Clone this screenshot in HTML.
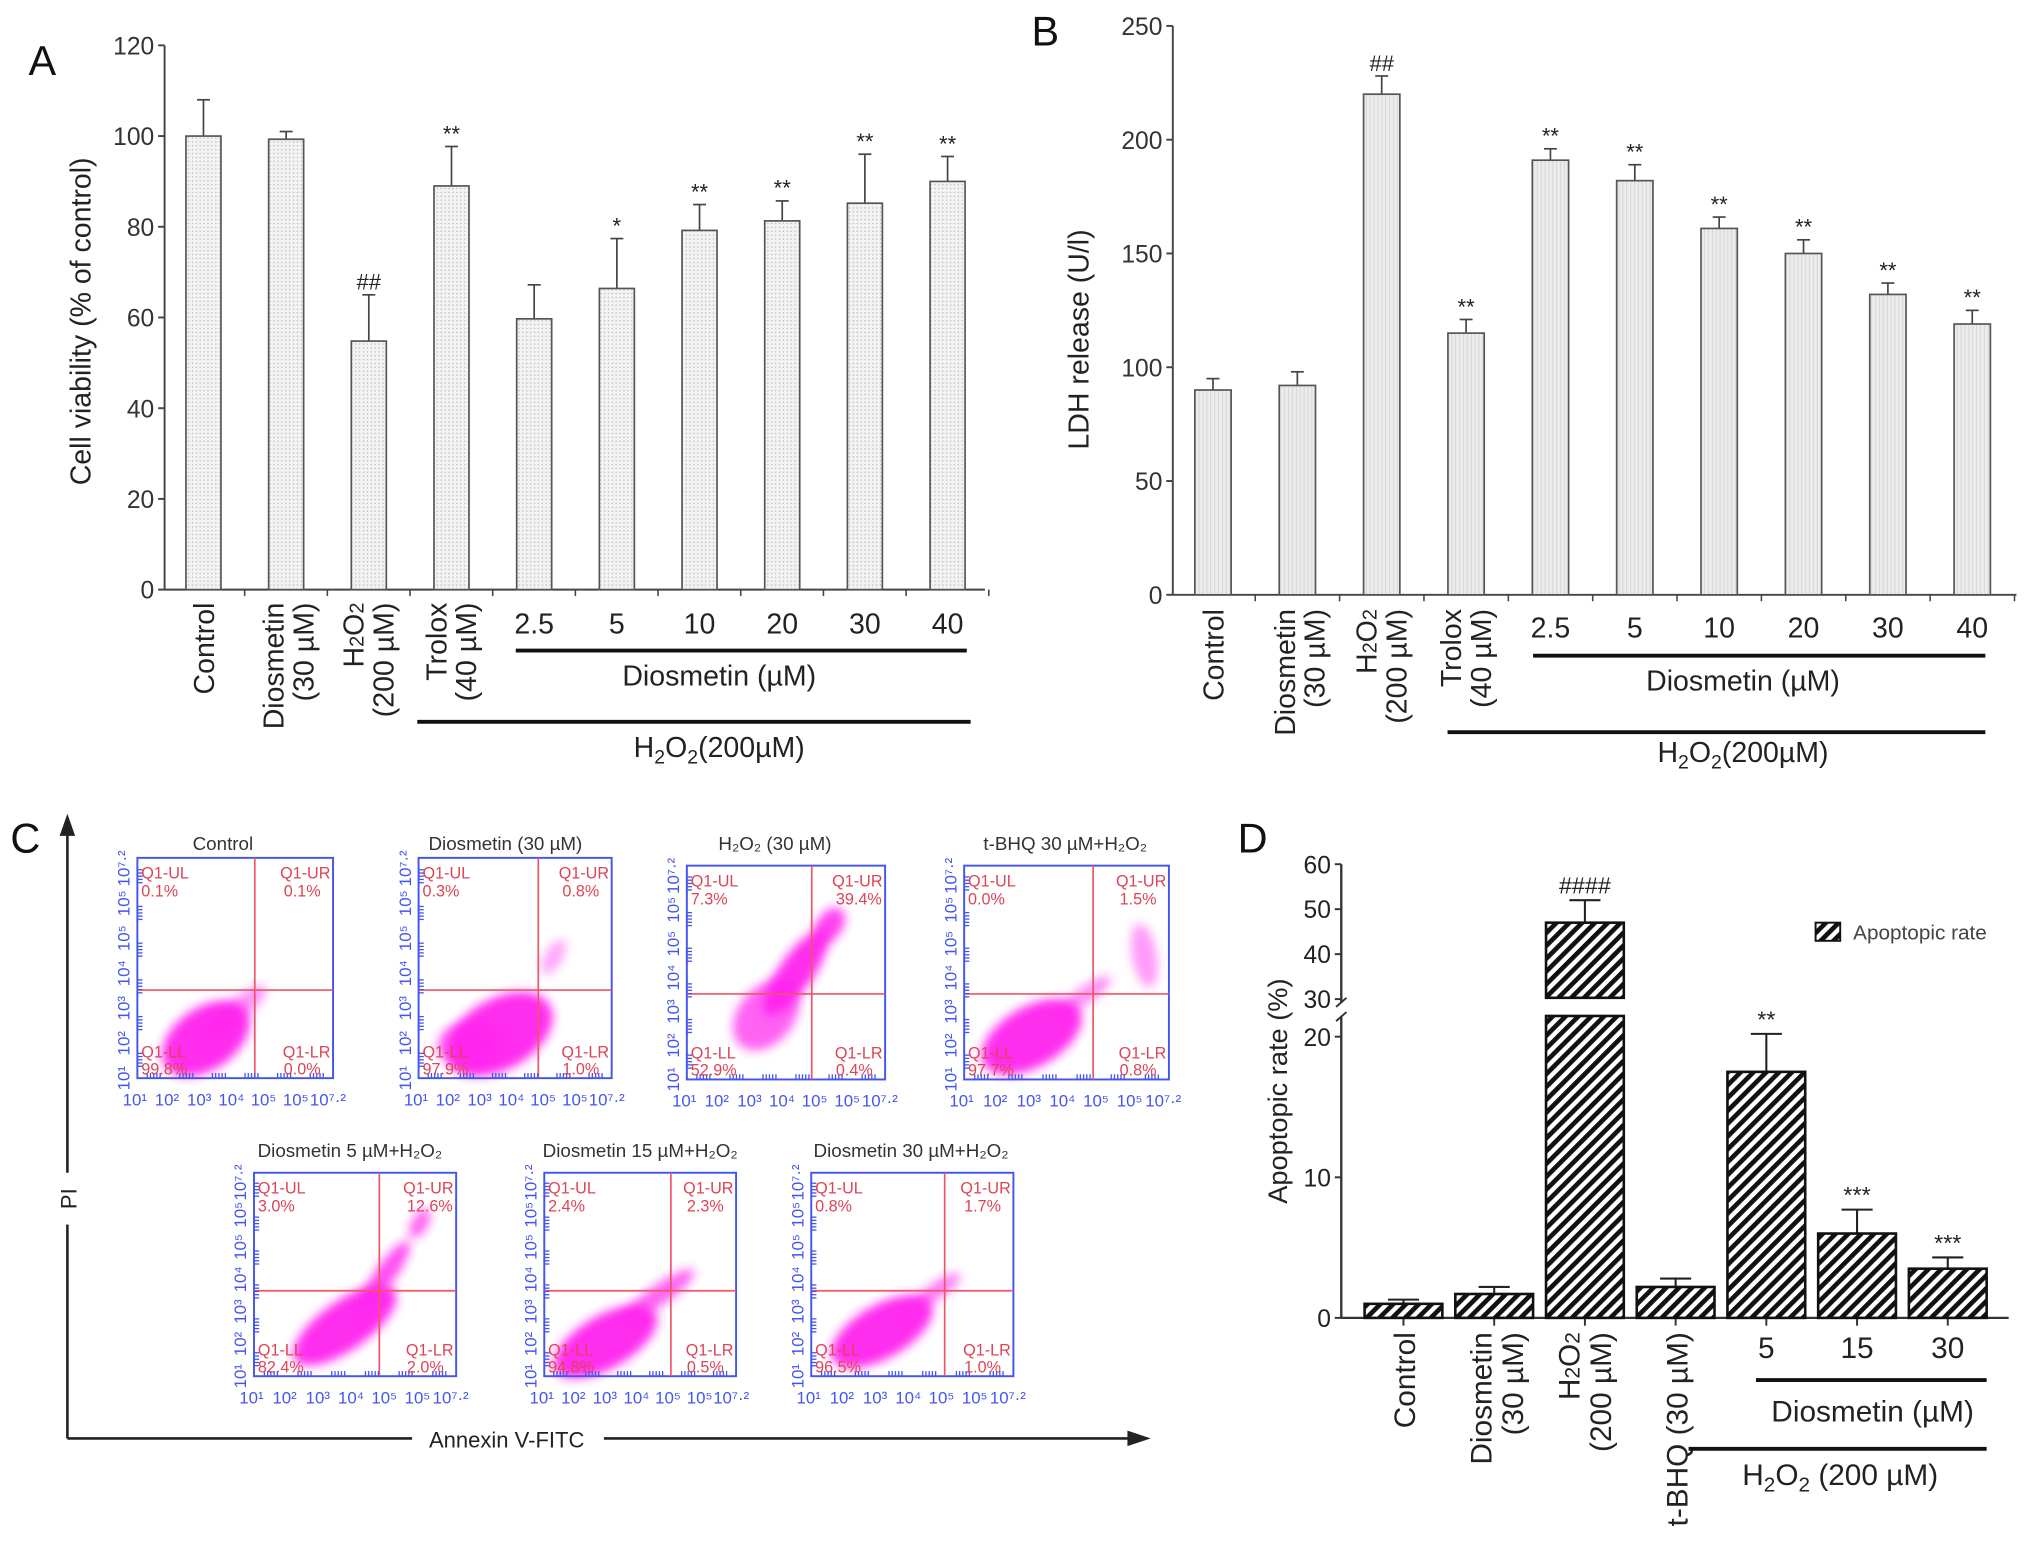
<!DOCTYPE html>
<html><head><meta charset="utf-8"><style>
html,body{margin:0;padding:0;background:#fff}
svg{display:block}
text{font-family:"Liberation Sans",Arial,sans-serif}
</style></head><body>
<svg id="fig" width="2032" height="1561" viewBox="0 0 1568 1204.6" preserveAspectRatio="none" xmlns="http://www.w3.org/2000/svg">
<defs>
<pattern id="dots" width="3" height="3" patternUnits="userSpaceOnUse"><rect width="3" height="3" fill="#f3f3f3"/><rect x="1" y="1" width="1" height="1" fill="#b8b8b8"/></pattern>
<pattern id="vlines" width="3" height="3" patternUnits="userSpaceOnUse"><rect width="3" height="3" fill="#ececec"/><rect x="1" width="0.6" height="3" fill="#d0d0d0"/></pattern>
<pattern id="hatch" width="7" height="7" patternUnits="userSpaceOnUse" patternTransform="rotate(45)"><rect width="7" height="7" fill="#fff"/><rect width="3.6" height="7" fill="#111"/></pattern>
<filter id="blur" x="-50%" y="-50%" width="200%" height="200%"><feGaussianBlur stdDeviation="4"/></filter>
</defs>
<g id="A"></g>
<g id="B"></g>
<g id="C"></g>
<g id="D"></g>
</svg>
<script>
// ---- Panel A data ----
const catsA = ["Control","Diosmetin (30 µM)","H2O2 (200 µM)","Trolox (40 µM)","2.5","5","10","20","30","40"];
const valsA = [100, 99.3, 54.8, 89, 59.7, 66.4, 79.2, 81.3, 85.2, 90];
const errA = [108, 101, 65, 97.7, 67.2, 77.4, 84.9, 85.7, 96, 95.5];
const sigA = ["", "", "##", "**", "", "*", "**", "**", "**", "**"];
const ticksA = [0, 20, 40, 60, 80, 100, 120];
// ---- Panel B data ----
const catsB = ["Control","Diosmetin (30 µM)","H2O2 (200 µM)","Trolox (40 µM)","2.5","5","10","20","30","40"];
const valsB = [90, 92, 220, 115, 191, 182, 161, 150, 132, 119];
const errB = [95, 98, 228, 121, 196, 189, 166, 156, 137, 125];
const sigB = ["", "", "##", "**", "**", "**", "**", "**", "**", "**"];
const ticksB = [0, 50, 100, 150, 200, 250];
// ---- Panel D data ----
const catsD = ["Control","Diosmetin (30 µM)","H2O2 (200 µM)","t-BHQ (30 µM)","5","15","30"];
const valsD = [1.0, 1.7, 47, 2.2, 17.5, 6.0, 3.5];
const errD = [1.3, 2.2, 52, 2.8, 20.2, 7.7, 4.3];
const sigD = ["", "", "####", "", "**", "***", "***"];
const ticksDlow = [0, 10, 20];
const ticksDhigh = [30, 40, 50, 60];
// ---- Panel C data ----
const flowTitles = ["Control","Diosmetin (30 µM)","H₂O₂ (30 µM)","t-BHQ 30 µM+H₂O₂","Diosmetin 5 µM+H₂O₂","Diosmetin 15 µM+H₂O₂","Diosmetin 30 µM+H₂O₂"];
const flowUL = ["0.1%","0.3%","7.3%","0.0%","3.0%","2.4%","0.8%"];
const flowUR = ["0.1%","0.8%","39.4%","1.5%","12.6%","2.3%","1.7%"];
const flowLL = ["99.8%","97.9%","52.9%","97.7%","82.4%","94.8%","96.5%"];
const flowLR = ["0.0%","1.0%","0.4%","0.8%","2.0%","0.5%","1.0%"];

const NS = "http://www.w3.org/2000/svg";
function mk(parent, tag, attrs, txt){
  const e = document.createElementNS(NS, tag);
  for (const k in attrs) e.setAttribute(k, attrs[k]);
  if (txt !== undefined) e.textContent = txt;
  parent.appendChild(e); return e;
}
function vtext(g, x, y, lines, size, name){
  const t = mk(g, "text", {transform:`translate(${x},${y}) rotate(-90)`, "text-anchor":"end", "font-size":size, fill:"#222"});
  
  
  lines.forEach((l,i)=>{
    const ts = mk(t, "tspan", {x:0, dy: i===0 ? 0 : size*1.05});
    if (typeof l === "string") ts.textContent = l;
    else l.forEach(p=>{ mk(ts,"tspan", p.sub?{"font-size":size*0.7}:{}, p.t); });
  });
  return t;
}

// ================= PANEL A =================
(function(){
  const g = document.getElementById("A");
  const x0 = 127, xEnd = 760, y0 = 455, yTop = 35, vmax = 120;
  const yA = v => y0 - (v / vmax) * (y0 - yTop);
  const xA = i => 157 + i * 63.8;
  const bw = 27;
  let t = mk(g,"text",{x:22,y:58,"font-size":32,fill:"#111"},"A");
   
  t = mk(g,"text",{transform:"translate(70,248) rotate(-90)","text-anchor":"middle","font-size":22,fill:"#222"},"Cell viability (% of control)");
   
  mk(g,"line",{x1:x0,y1:yTop,x2:x0,y2:y0,stroke:"#444","stroke-width":1.5});
  mk(g,"line",{x1:x0,y1:y0,x2:xEnd,y2:y0,stroke:"#444","stroke-width":1.5});
  ticksA.forEach(v=>{
    mk(g,"line",{x1:x0-5,y1:yA(v),x2:x0,y2:yA(v),stroke:"#444","stroke-width":1.5});
    const tt = mk(g,"text",{x:x0-8,y:yA(v)+7,"text-anchor":"end","font-size":19,fill:"#333"},String(v));
     
  });
  for (let i=1;i<=catsA.length;i++){ const xx = xA(i)-32; mk(g,"line",{x1:xx,y1:y0,x2:xx,y2:y0+5,stroke:"#444","stroke-width":1.2}); }
  valsA.forEach((v,i)=>{
    const x = xA(i);
    mk(g,"line",{x1:x,y1:yA(v),x2:x,y2:yA(errA[i]),stroke:"#444","stroke-width":1.3});
    mk(g,"line",{x1:x-5,y1:yA(errA[i]),x2:x+5,y2:yA(errA[i]),stroke:"#444","stroke-width":1.3});
    const r = mk(g,"rect",{x:x-bw/2,y:yA(v),width:bw,height:y0-yA(v),fill:"url(#dots)",stroke:"#555","stroke-width":1.3});
    
    
    if (sigA[i]) { const s = mk(g,"text",{x:x,y:yA(errA[i])-4,"text-anchor":"middle","font-size":17,fill:"#222"},sigA[i]);
        }
  });
  const big = 22;
  vtext(g, xA(0)+8, 465, ["Control"], big, "x-label-control");
  vtext(g, xA(1)-2, 465, ["Diosmetin","(30 µM)"], big, "x-label-diosmetin");
  vtext(g, xA(2)-4, 465, [[{t:"H"},{t:"2",sub:1},{t:"O"},{t:"2",sub:1}],"(200 µM)"], big, "x-label-h2o2");
  vtext(g, xA(3)-4, 465, ["Trolox","(40 µM)"], big, "x-label-trolox");
  for (let i=4;i<catsA.length;i++){ const tt = mk(g,"text",{x:xA(i),y:489,"text-anchor":"middle","font-size":22,fill:"#222"},catsA[i]);
      }
  mk(g,"line",{x1:398,y1:502,x2:746,y2:502,stroke:"#111","stroke-width":3});
  t = mk(g,"text",{x:555,y:529,"text-anchor":"middle","font-size":22,fill:"#222"},"Diosmetin (µM)");
   
  mk(g,"line",{x1:322,y1:557,x2:749,y2:557,stroke:"#111","stroke-width":3});
  t = mk(g,"text",{x:555,y:584,"text-anchor":"middle","font-size":22,fill:"#222"});
  t.innerHTML = 'H<tspan font-size="15" dy="5">2</tspan><tspan dy="-5">O</tspan><tspan font-size="15" dy="5">2</tspan><tspan dy="-5">(200µM)</tspan>';
   
})();

// ================= PANEL B =================
(function(){
  const g = document.getElementById("B");
  const x0 = 905, xEnd = 1556, y0 = 459, yTop = 20, vmax = 250;
  const yB = v => y0 - (v / vmax) * (y0 - yTop);
  const xB = i => 936 + i * 65.1;
  const bw = 28;
  let t = mk(g,"text",{x:796,y:35,"font-size":32,fill:"#111"},"B");
   
  t = mk(g,"text",{transform:"translate(840,262) rotate(-90)","text-anchor":"middle","font-size":22,fill:"#222"},"LDH release (U/l)");
   
  mk(g,"line",{x1:x0,y1:yTop,x2:x0,y2:y0,stroke:"#444","stroke-width":1.5});
  mk(g,"line",{x1:x0,y1:y0,x2:xEnd,y2:y0,stroke:"#444","stroke-width":1.5});
  ticksB.forEach(v=>{
    mk(g,"line",{x1:x0-5,y1:yB(v),x2:x0,y2:yB(v),stroke:"#444","stroke-width":1.5});
    const tt = mk(g,"text",{x:x0-8,y:yB(v)+7,"text-anchor":"end","font-size":19,fill:"#333"},String(v));
     
  });
  for (let i=1;i<=catsB.length;i++){ const xx = xB(i)-32.5; mk(g,"line",{x1:xx,y1:y0,x2:xx,y2:y0+5,stroke:"#444","stroke-width":1.2}); }
  valsB.forEach((v,i)=>{
    const x = xB(i);
    mk(g,"line",{x1:x,y1:yB(v),x2:x,y2:yB(errB[i]),stroke:"#444","stroke-width":1.3});
    mk(g,"line",{x1:x-5,y1:yB(errB[i]),x2:x+5,y2:yB(errB[i]),stroke:"#444","stroke-width":1.3});
    const r = mk(g,"rect",{x:x-bw/2,y:yB(v),width:bw,height:y0-yB(v),fill:"url(#vlines)",stroke:"#555","stroke-width":1.3});
    
    
    if (sigB[i]) { const s = mk(g,"text",{x:x,y:yB(errB[i])-4,"text-anchor":"middle","font-size":17,fill:"#222"},sigB[i]);
        }
  });
  const big = 22;
  vtext(g, xB(0)+8, 470, ["Control"], big, "x-label-control");
  vtext(g, xB(1)-2, 470, ["Diosmetin","(30 µM)"], big, "x-label-diosmetin");
  vtext(g, xB(2)-4, 470, [[{t:"H"},{t:"2",sub:1},{t:"O"},{t:"2",sub:1}],"(200 µM)"], big, "x-label-h2o2");
  vtext(g, xB(3)-4, 470, ["Trolox","(40 µM)"], big, "x-label-trolox");
  for (let i=4;i<catsB.length;i++){ const tt = mk(g,"text",{x:xB(i),y:492,"text-anchor":"middle","font-size":22,fill:"#222"},catsB[i]);
      }
  mk(g,"line",{x1:1183,y1:506,x2:1532,y2:506,stroke:"#111","stroke-width":3});
  t = mk(g,"text",{x:1345,y:533,"text-anchor":"middle","font-size":22,fill:"#222"},"Diosmetin (µM)");
   
  mk(g,"line",{x1:1117,y1:565,x2:1532,y2:565,stroke:"#111","stroke-width":3});
  t = mk(g,"text",{x:1345,y:588,"text-anchor":"middle","font-size":22,fill:"#222"});
  t.innerHTML = 'H<tspan font-size="15" dy="5">2</tspan><tspan dy="-5">O</tspan><tspan font-size="15" dy="5">2</tspan><tspan dy="-5">(200µM)</tspan>';
   
})();

// ================= PANEL D =================
(function(){
  const g = document.getElementById("D");
  const x0 = 1035, xEnd = 1550, y0 = 1017;
  const yD = v => v <= 25 ? y0 - v * 10.85 : 771 - (v - 30) * 3.47;
  const xD = i => 1083 + i * 70;
  const bw = 60;
  let t = mk(g,"text",{x:955,y:658,"font-size":32,fill:"#111"},"D");
   
  t = mk(g,"text",{transform:"translate(993,842) rotate(-90)","text-anchor":"middle","font-size":21,fill:"#222"},"Apoptopic rate (%)");
   
  mk(g,"line",{x1:x0,y1:yD(60),x2:x0,y2:774,stroke:"#333","stroke-width":1.8});
  mk(g,"line",{x1:x0,y1:784,x2:x0,y2:y0,stroke:"#333","stroke-width":1.8});
  mk(g,"line",{x1:x0-4,y1:777,x2:x0+4,y2:770,stroke:"#333","stroke-width":1.5});
  mk(g,"line",{x1:x0-4,y1:788,x2:x0+4,y2:781,stroke:"#333","stroke-width":1.5});
  mk(g,"line",{x1:x0,y1:y0,x2:xEnd,y2:y0,stroke:"#333","stroke-width":1.8});
  ticksDlow.concat(ticksDhigh).forEach(v=>{
    mk(g,"line",{x1:x0-5,y1:yD(v),x2:x0,y2:yD(v),stroke:"#333","stroke-width":1.5});
    const tt = mk(g,"text",{x:x0-8,y:yD(v)+7,"text-anchor":"end","font-size":19,fill:"#222"},String(v));
     
  });
  valsD.forEach((v,i)=>{
    const x = xD(i);
    mk(g,"line",{x1:x,y1:y0,x2:x,y2:y0+6,stroke:"#333","stroke-width":1.5});
    mk(g,"line",{x1:x,y1:yD(v),x2:x,y2:yD(errD[i]),stroke:"#222","stroke-width":1.6});
    mk(g,"line",{x1:x-12,y1:yD(errD[i]),x2:x+12,y2:yD(errD[i]),stroke:"#222","stroke-width":1.6});
    const name = 'bar-'+catsD[i].toLowerCase().replace(/[^a-z0-9.]+/g,'-');
    if (v > 25) {
      const r1 = mk(g,"rect",{x:x-bw/2,y:yD(v),width:bw,height:770-yD(v),fill:"url(#hatch)",stroke:"#111","stroke-width":2});
       
      const r2 = mk(g,"rect",{x:x-bw/2,y:784,width:bw,height:y0-784,fill:"url(#hatch)",stroke:"#111","stroke-width":2});
       
    } else {
      const r = mk(g,"rect",{x:x-bw/2,y:yD(v),width:bw,height:y0-yD(v),fill:"url(#hatch)",stroke:"#111","stroke-width":2});
       
    }
    if (sigD[i]) { const s = mk(g,"text",{x:x,y:yD(errD[i])-5,"text-anchor":"middle","font-size":18,fill:"#222"},sigD[i]);
        }
  });
  const lb = mk(g,"rect",{x:1401,y:712,width:19,height:14,fill:"url(#hatch)",stroke:"#111","stroke-width":1.5});
   
  t = mk(g,"text",{x:1430,y:725,"font-size":16,fill:"#444"},"Apoptopic rate");
   
  const big = 23;
  vtext(g, xD(0)+9, 1028, ["Control"], big, "x-label-control");
  vtext(g, xD(1)-2, 1028, ["Diosmetin","(30 µM)"], big, "x-label-diosmetin");
  vtext(g, xD(2)-4, 1028, [[{t:"H"},{t:"2",sub:1},{t:"O"},{t:"2",sub:1}],"(200 µM)"], big, "x-label-h2o2");
  vtext(g, xD(3)+9, 1028, ["t-BHQ (30 µM)"], big, "x-label-tbhq");
  for (let i=4;i<catsD.length;i++){ const tt = mk(g,"text",{x:xD(i),y:1048,"text-anchor":"middle","font-size":23,fill:"#222"},catsD[i]);
      }
  mk(g,"line",{x1:1355,y1:1065,x2:1533,y2:1065,stroke:"#111","stroke-width":3});
  t = mk(g,"text",{x:1445,y:1097,"text-anchor":"middle","font-size":23,fill:"#222"},"Diosmetin (µM)");
   
  mk(g,"line",{x1:1303,y1:1118,x2:1533,y2:1118,stroke:"#111","stroke-width":3});
  t = mk(g,"text",{x:1420,y:1146,"text-anchor":"middle","font-size":23,fill:"#222"});
  t.innerHTML = 'H<tspan font-size="16" dy="5">2</tspan><tspan dy="-5">O</tspan><tspan font-size="16" dy="5">2</tspan><tspan dy="-5"> (200 µM)</tspan>';
   
})();

// ================= PANEL C =================
(function(){
  const g = document.getElementById("C");
  let t = mk(g,"text",{x:8,y:658,"font-size":32,fill:"#111"},"C");
   
  mk(g,"line",{x1:52,y1:1110,x2:52,y2:642,stroke:"#222","stroke-width":2});
  mk(g,"path",{d:"M46,645 L52,628 L58,645 Z",fill:"#222"});
  mk(g,"rect",{x:45,y:905,width:14,height:40,fill:"#fff"});
  t = mk(g,"text",{transform:"translate(59,925) rotate(-90)","text-anchor":"middle","font-size":17,fill:"#222"},"PI");
   
  mk(g,"line",{x1:52,y1:1110,x2:872,y2:1110,stroke:"#222","stroke-width":2});
  mk(g,"path",{d:"M870,1104 L888,1110 L870,1116 Z",fill:"#222"});
  mk(g,"rect",{x:318,y:1098,width:148,height:24,fill:"#fff"});
  t = mk(g,"text",{x:391,y:1117,"text-anchor":"middle","font-size":17,fill:"#222"},"Annexin V-FITC");
   

  const boxes = [[106,662,151,170,0.6,0.6],[323,662,149,170,0.62,0.6],[530,668,153,165,0.63,0.6],[744,668,158,165,0.63,0.6],
                 [196,905,156,157,0.62,0.58],[420,905,148,157,0.66,0.58],[626,905,156,157,0.66,0.58]];
  const blobs = [
    [[0.35,0.82,0.25,0.14,-35,0.95],[0.5,0.7,0.2,0.05,-40,0.5]],
    [[0.42,0.8,0.3,0.16,-30,0.95],[0.25,0.85,0.15,0.1,0,0.7],[0.7,0.45,0.1,0.04,-60,0.4]],
    [[0.4,0.7,0.2,0.13,-50,0.7],[0.55,0.5,0.26,0.08,-55,0.95],[0.72,0.28,0.1,0.06,-55,0.85]],
    [[0.33,0.8,0.27,0.14,-30,0.95],[0.6,0.6,0.14,0.04,-35,0.5],[0.88,0.42,0.06,0.15,-10,0.45]],
    [[0.45,0.75,0.3,0.12,-35,0.95],[0.65,0.5,0.2,0.05,-55,0.8],[0.82,0.25,0.08,0.04,-60,0.7]],
    [[0.32,0.83,0.3,0.13,-30,0.95],[0.6,0.6,0.22,0.05,-35,0.7]],
    [[0.35,0.78,0.28,0.13,-30,0.95],[0.62,0.58,0.14,0.04,-35,0.6]]
  ];
  const titlePos = [[172,656],[390,656],[598,656],[822,656],[270,893],[494,893],[703,893]];
  const ylabs = ["10¹","10²","10³","10⁴","10⁵","10⁵","10⁷·²"];
  boxes.forEach((b,k)=>{
    const [x,y,w,h,gx,gy] = b;
    const pg = mk(g,"g",{});
    
    
    const tt = mk(pg,"text",{x:titlePos[k][0],y:titlePos[k][1],"text-anchor":"middle","font-size":14.5,fill:"#333"},flowTitles[k]);
     
    blobs[k].forEach(bl=>{
      mk(pg,"ellipse",{cx:x+bl[0]*w,cy:y+bl[1]*h,rx:bl[2]*w,ry:bl[3]*h,transform:`rotate(${bl[4]} ${x+bl[0]*w} ${y+bl[1]*h})`,fill:"#ff22ee",opacity:bl[5],filter:"url(#blur)"});
    });
    mk(pg,"rect",{x:x,y:y,width:w,height:h,fill:"none",stroke:"#4455ee","stroke-width":1.5});
    mk(pg,"line",{x1:x+gx*w,y1:y,x2:x+gx*w,y2:y+h,stroke:"#ee5566","stroke-width":1.3});
    mk(pg,"line",{x1:x,y1:y+gy*h,x2:x+w,y2:y+gy*h,stroke:"#ee5566","stroke-width":1.3});
    for (let j=0;j<6;j++){
      const tx = x + (j+0.5)*w/6;
      for (let m=0;m<5;m++) mk(pg,"line",{x1:tx+m*2.5-5,y1:y+h,x2:tx+m*2.5-5,y2:y+h-4,stroke:"#4455ee","stroke-width":1});
      const ty = y + (j+0.5)*h/6;
      for (let m=0;m<5;m++) mk(pg,"line",{x1:x,y1:ty+m*2.5-5,x2:x+4,y2:ty+m*2.5-5,stroke:"#4455ee","stroke-width":1});
    }
    ylabs.forEach((l,j)=>{
      const xl = mk(pg,"text",{x:x-2+j*(w+8)/6.4,y:y+h+21,"text-anchor":"middle","font-size":13,fill:"#4455ee"},l);
       
      const yy = y+h-j*h/6.3;
      const yl = mk(pg,"text",{transform:`translate(${x-6},${yy}) rotate(-90)`,"text-anchor":"middle","font-size":13,fill:"#4455ee"},l);
       
    });
    const q = (tx,ty,s,anchor,nm)=>{ const e = mk(pg,"text",{x:tx,y:ty,"font-size":12.5,fill:"#dd4455","text-anchor":anchor},s);
        };
    q(x+3,y+16,"Q1-UL","start","quadrant-ul-label"); q(x+3,y+30,flowUL[k],"start","quadrant-ul-value");
    q(x+w-2,y+16,"Q1-UR","end","quadrant-ur-label"); q(x+w-38,y+30,flowUR[k],"start","quadrant-ur-value");
    q(x+3,y+h-16,"Q1-LL","start","quadrant-ll-label"); q(x+3,y+h-3,flowLL[k],"start","quadrant-ll-value");
    q(x+w-2,y+h-16,"Q1-LR","end","quadrant-lr-label"); q(x+w-38,y+h-3,flowLR[k],"start","quadrant-lr-value");
  });
})();
</script>
</body></html>
